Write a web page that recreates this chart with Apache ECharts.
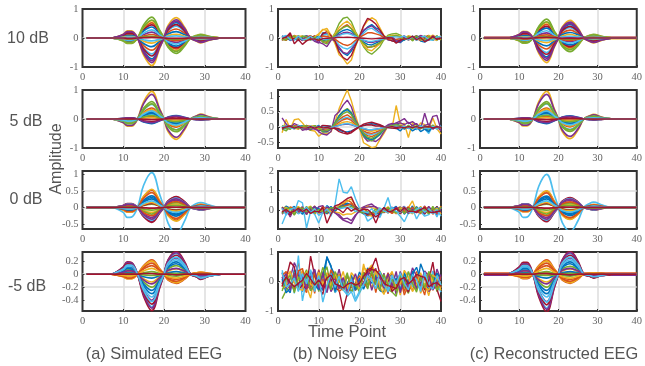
<!DOCTYPE html>
<html><head><meta charset="utf-8"><style>html,body{margin:0;padding:0;background:#fff}#c{width:645px;height:366px}</style>
<script src="https://cdn.jsdelivr.net/npm/echarts@6/dist/echarts.min.js"></script></head><body><div id="c"></div>
<script>
// amplitudes are stored in hundredths
const knots=[8,10,11,12,13.5,15,17,19,20,21,23,25,26.5,28,29,31,33];
const timePoints=[1,2,3,4,5,6,7,8,9,10,11,12,13,14,15,16,17,18,19,20,21,22,23,24,25,26,27,28,29,30,31,32,33,34,35,36,37,38,39,40];
const a10=[
[1,10,19,19,0,-45,-72,-25,0,32,53,29,0,-9,-13,-6,-1],[-1,-7,-14,-14,0,32,52,18,0,-23,-38,-21,0,6,9,4,1],[2,13,25,25,0,-59,-95,-33,0,43,70,38,0,-11,-17,-8,-1],
[2,11,20,20,0,-48,-78,-27,0,35,58,31,0,-9,-14,-6,-1],[-1,-10,-19,-19,0,45,72,25,0,-32,-53,-29,0,9,13,6,1],[1,8,14,14,0,-34,-55,-19,0,25,41,22,0,-7,-10,-4,-1],
[-1,-6,-12,-12,0,28,45,16,0,-20,-33,-18,0,5,8,4,0],[-1,-5,-10,-10,0,24,38,13,0,-17,-28,-15,0,5,7,3,0],[1,6,11,11,0,-26,-42,-15,0,19,31,17,0,-5,-8,-3,0],
[-1,-8,-16,-16,0,37,60,21,0,-27,-44,-24,0,7,11,5,1],[0,-3,-5,-5,0,12,20,7,0,-9,-15,-8,0,2,4,2,0],[-1,-9,-16,-16,0,38,62,22,0,-28,-46,-25,0,7,11,5,1],
[-1,-4,-7,-7,0,17,28,10,0,-13,-21,-11,0,3,5,2,0],[1,9,16,16,0,-38,-62,-22,0,28,46,25,0,-7,-11,-5,-1],[1,4,8,8,0,-19,-30,-10,0,14,22,12,0,-4,-5,-2,0],
[0,-2,-3,-3,0,7,12,4,0,-5,-9,-5,0,1,2,1,0],[0,3,5,5,0,-11,-18,-6,0,8,13,7,0,-2,-3,-1,0],[2,12,22,22,0,-53,-85,-30,0,38,63,34,0,-10,-15,-7,-1],
[0,-1,-2,-2,0,4,6,2,0,-3,-4,-2,0,1,1,0,0],[0,1,3,3,0,-6,-10,-4,0,5,7,4,0,-1,-2,-1,0],[0,0,-1,-1,0,1,2,1,0,-1,-1,-1,0,0,0,0,0]];
const a5=[
[0,2,4,4,0,-10,-16,-6,0,7,12,6,0,-2,-3,-1,0],[-1,-5,-10,-10,0,24,38,13,0,-17,-28,-15,0,5,7,3,0],[-2,-13,-25,-25,0,59,95,33,0,-43,-70,-38,0,11,17,8,1],
[-2,-12,-22,-22,0,53,85,30,0,-38,-63,-34,0,10,15,7,1],[-1,-8,-16,-16,0,37,60,21,0,-27,-44,-24,0,7,11,5,1],[-1,-7,-13,-13,0,31,50,18,0,-23,-37,-20,0,6,9,4,1],
[0,-3,-5,-5,0,11,18,6,0,-8,-13,-7,0,2,3,1,0],[0,-3,-6,-6,0,15,24,8,0,-11,-18,-10,0,3,4,2,0],[-1,-4,-8,-8,0,19,30,10,0,-14,-22,-12,0,4,5,2,0],
[-1,-4,-8,-8,0,20,32,11,0,-14,-24,-13,0,4,6,3,0],[0,-2,-3,-3,0,7,12,4,0,-5,-9,-5,0,1,2,1,0],[-1,-7,-14,-14,0,32,52,18,0,-23,-38,-21,0,6,9,4,1],
[0,-2,-4,-4,0,10,16,6,0,-7,-12,-6,0,2,3,1,0],[0,1,3,3,0,-6,-10,-4,0,5,7,4,0,-1,-2,-1,0],[0,-3,-5,-5,0,12,20,7,0,-9,-15,-8,0,2,4,2,0],
[0,-1,-2,-2,0,5,8,3,0,-4,-6,-3,0,1,1,1,0],[0,-1,-1,-1,0,3,5,2,0,-2,-4,-2,0,1,1,0,0],[0,2,3,3,0,-8,-13,-5,0,6,10,5,0,-2,-2,-1,0],
[0,-2,-3,-3,0,7,12,4,0,-5,-9,-5,0,1,2,1,0],[-1,-4,-7,-7,0,17,28,10,0,-13,-21,-11,0,3,5,2,0],[0,0,0,0,0,-1,-2,-1,0,1,1,1,0,0,0,0,0]];
const a0=[
[-1,-5,-9,-9,0,22,35,12,0,-16,-26,-14,0,4,6,3,0],[-1,-7,-14,-14,0,32,52,18,0,-23,-38,-21,0,6,9,4,1],[-1,-8,-14,-14,0,34,55,19,0,-25,-41,-22,0,7,10,4,1],
[1,6,11,11,0,-26,-42,-15,0,19,31,17,0,-5,-8,-3,0],[0,-1,-3,-3,0,6,10,4,0,-5,-7,-4,0,1,2,1,0],[-2,-15,-30,-29,0,67,105,37,0,-47,-80,-42,0,12,15,8,1],
[1,6,12,12,0,-28,-45,-16,0,20,33,18,0,-5,-8,-4,0],[-1,-4,-8,-8,0,19,30,10,0,-14,-22,-12,0,4,5,2,0],[-1,-6,-12,-12,0,28,45,16,0,-20,-33,-18,0,5,8,4,0],
[0,2,4,4,0,-9,-15,-5,0,7,11,6,0,-2,-3,-1,0],[1,4,8,8,0,-19,-30,-10,0,14,22,12,0,-4,-5,-2,0],[0,3,5,5,0,-12,-20,-7,0,9,15,8,0,-2,-4,-2,0],
[1,5,10,10,0,-24,-38,-13,0,17,28,15,0,-5,-7,-3,0],[0,-2,-3,-3,0,7,12,4,0,-5,-9,-5,0,1,2,1,0],[-1,-4,-7,-7,0,16,26,9,0,-12,-19,-10,0,3,5,2,0],
[1,4,7,7,0,-16,-25,-9,0,11,18,10,0,-3,-5,-2,0],[0,-2,-4,-4,0,9,15,5,0,-7,-11,-6,0,2,3,1,0],[1,5,9,9,0,-22,-35,-12,0,16,26,14,0,-4,-6,-3,0],
[0,1,2,2,0,-5,-8,-3,0,4,6,3,0,-1,-1,-1,0],[0,-3,-5,-5,0,12,20,7,0,-9,-15,-8,0,2,4,2,0],[0,0,0,0,0,-1,-2,-1,0,1,1,1,0,0,0,0,0]];
const am5=[
[1,6,10,10,0,-18,-30,-11,0,12,19,11,0,-2,-4,-2,-1],[-1,-4,-7,-7,0,13,22,8,0,-9,-14,-8,0,2,3,1,0],[-1,-4,-7,-7,0,12,20,7,0,-8,-13,-7,0,2,3,1,0],
[2,8,14,13,0,-24,-40,-14,0,16,25,14,0,-3,-6,-2,-1],[1,4,7,7,0,-12,-20,-7,0,8,13,7,0,-2,-3,-1,0],[2,10,17,17,0,-30,-50,-18,0,20,32,18,0,-4,-7,-3,-1],
[2,11,19,18,0,-34,-56,-20,0,22,35,20,0,-4,-8,-3,-1],[1,5,9,8,0,-15,-25,-9,0,10,16,9,0,-2,-4,-2,-1],[-1,-3,-6,-6,0,10,17,6,0,-7,-11,-6,0,1,2,1,0],
[0,2,4,4,0,-7,-12,-4,0,5,8,4,0,-1,-2,-1,0],[2,10,18,17,0,-31,-52,-18,0,21,33,18,0,-4,-7,-3,-1],[0,-1,-1,-1,0,2,4,1,0,-2,-3,-1,0,0,1,0,0],
[1,7,12,12,0,-21,-35,-12,0,14,22,12,0,-3,-5,-2,-1],[2,9,16,15,0,-28,-46,-16,0,18,29,16,0,-4,-6,-3,-1],[0,1,2,2,0,-4,-6,-2,0,2,4,2,0,0,-1,0,0],
[-1,-3,-4,-4,0,8,13,5,0,-5,-8,-5,0,1,2,1,0],[0,-2,-3,-3,0,5,9,3,0,-4,-6,-3,0,1,1,1,0],[1,3,5,5,0,-9,-15,-5,0,6,9,5,0,-1,-2,-1,0],
[0,0,1,1,0,-1,-2,-1,0,1,1,1,0,0,0,0,0],[2,8,14,14,0,-25,-42,-15,0,17,26,15,0,-3,-6,-3,-1],[0,0,0,0,0,1,1,0,0,0,-1,0,0,0,0,0,0]];
const c10=[
[1,10,18,17,0,-40,-65,-23,0,29,47,26,0,-9,-13,-6,-1],[-1,-7,-13,-12,0,29,47,16,0,-21,-34,-19,0,7,9,4,0],[2,13,23,22,0,-53,-85,-30,0,38,61,34,0,-12,-17,-8,-1],
[1,11,19,18,0,-43,-70,-25,0,32,50,28,0,-10,-14,-6,-1],[-1,-10,-18,-17,0,40,65,23,0,-29,-47,-26,0,9,13,6,1],[1,8,14,13,0,-31,-50,-18,0,23,36,20,0,-7,-10,-5,-1],
[-1,-6,-11,-10,0,25,40,14,0,-18,-29,-16,0,6,8,4,0],[-1,-5,-9,-9,0,21,34,12,0,-15,-24,-14,0,5,7,3,0],[1,6,10,10,0,-24,-38,-13,0,17,27,15,0,-5,-8,-3,0],
[-1,-8,-15,-14,0,33,54,19,0,-24,-39,-22,0,8,11,5,1],[0,-3,-5,-5,0,11,18,6,0,-8,-13,-7,0,3,4,2,0],[-1,-8,-15,-15,0,35,56,20,0,-25,-40,-22,0,8,11,5,1],
[-1,-4,-7,-7,0,16,25,9,0,-11,-18,-10,0,4,5,2,0],[1,8,15,15,0,-35,-56,-20,0,25,40,22,0,-8,-11,-5,-1],[1,4,7,7,0,-17,-27,-9,0,12,19,11,0,-4,-5,-2,0],
[0,-2,-3,-3,0,7,11,4,0,-5,-8,-4,0,2,2,1,0],[0,2,4,4,0,-10,-16,-6,0,7,12,6,0,-2,-3,-1,0],[2,12,21,20,0,-48,-77,-27,0,35,55,31,0,-11,-15,-7,-1],
[0,-1,-1,-1,0,3,5,2,0,-2,-4,-2,0,1,1,0,0],[0,1,2,2,0,-6,-9,-3,0,4,6,4,0,-1,-2,-1,0],[0,0,-1,-1,0,1,2,1,0,-1,-1,-1,0,0,0,0,0]];
const c5=[
[0,2,4,4,0,-10,-16,-6,0,7,11,6,0,-2,-3,-1,0],[-1,-5,-10,-9,0,24,38,13,0,-17,-27,-15,0,5,7,3,0],[-2,-13,-24,-24,0,60,95,33,0,-43,-68,-38,0,11,16,7,1],
[-2,-12,-21,-21,0,54,85,30,0,-38,-60,-34,0,10,14,6,1],[-1,-8,-15,-15,0,38,60,21,0,-27,-43,-24,0,7,10,5,1],[-1,-7,-13,-12,0,32,52,18,0,-23,-36,-20,0,6,8,4,1],
[0,-3,-5,-5,0,11,18,6,0,-8,-13,-7,0,2,3,1,0],[0,-3,-6,-6,0,15,24,8,0,-11,-17,-10,0,3,4,2,0],[-1,-4,-8,-7,0,19,30,10,0,-14,-21,-12,0,4,5,2,0],
[-1,-4,-8,-8,0,21,34,12,0,-15,-24,-13,0,4,6,3,0],[0,-2,-3,-3,0,7,12,4,0,-5,-9,-5,0,1,2,1,0],[-1,-7,-14,-13,0,33,54,19,0,-24,-38,-21,0,6,9,4,1],
[0,-2,-4,-4,0,10,16,6,0,-7,-11,-6,0,2,3,1,0],[0,1,3,3,0,-6,-10,-4,0,5,7,4,0,-1,-2,-1,0],[0,-3,-5,-5,0,13,21,7,0,-9,-15,-8,0,2,4,2,0],
[0,-1,-2,-2,0,5,8,3,0,-4,-6,-3,0,1,1,1,0],[0,-1,-1,-1,0,3,5,2,0,-2,-4,-2,0,1,1,0,0],[0,2,3,3,0,-8,-13,-5,0,6,9,5,0,-2,-2,-1,0],
[0,-2,-3,-3,0,8,13,5,0,-6,-9,-5,0,1,2,1,0],[-1,-4,-7,-7,0,17,28,10,0,-13,-20,-11,0,3,4,2,0],[0,0,0,0,0,-1,-2,-1,0,1,1,1,0,0,0,0,0]];
const c0=[
[-1,-4,-8,-8,0,22,34,12,0,-15,-25,-14,0,4,6,3,0],[-1,-7,-13,-13,0,31,49,17,0,-22,-35,-20,0,6,8,4,1],[-1,-7,-13,-13,0,32,50,18,0,-23,-36,-21,0,6,9,4,1],
[1,5,10,10,0,-25,-40,-14,0,18,28,16,0,-5,-7,-3,0],[0,-1,-3,-3,0,6,10,4,0,-5,-7,-4,0,1,2,1,0],[-2,-14,-30,-29,0,64,100,36,0,-46,-72,-40,0,12,16,8,1],
[1,6,11,11,0,-27,-43,-15,0,19,30,17,0,-5,-8,-4,0],[-1,-4,-8,-8,0,19,30,10,0,-14,-21,-12,0,4,5,2,0],[-1,-6,-11,-11,0,28,44,15,0,-20,-31,-18,0,5,8,4,0],
[0,2,4,4,0,-9,-15,-5,0,7,11,6,0,-2,-3,-1,0],[1,4,8,8,0,-19,-30,-10,0,14,21,12,0,-4,-5,-2,0],[0,3,5,5,0,-12,-20,-7,0,9,14,8,0,-2,-4,-2,0],
[1,5,10,10,0,-24,-38,-13,0,17,27,15,0,-5,-7,-3,0],[0,-2,-3,-3,0,7,12,4,0,-5,-9,-5,0,1,2,1,0],[-1,-4,-7,-7,0,16,26,9,0,-12,-18,-10,0,3,5,2,0],
[1,4,7,7,0,-16,-25,-9,0,11,17,10,0,-3,-5,-2,0],[0,-2,-4,-4,0,9,15,5,0,-7,-10,-6,0,2,3,1,0],[1,5,9,9,0,-22,-35,-12,0,16,25,14,0,-4,-6,-3,0],
[0,1,2,2,0,-5,-8,-3,0,4,6,3,0,-1,-1,-1,0],[0,-3,-5,-5,0,12,20,7,0,-9,-14,-8,0,2,4,2,0],[0,0,0,0,0,-1,-2,-1,0,1,1,1,0,0,0,0,0]];
const cm5=[
[1,6,10,10,0,-18,-30,-11,0,12,19,11,0,-2,-3,-1,0],[-1,-4,-7,-7,0,13,22,8,0,-9,-14,-8,0,1,2,1,0],[-1,-4,-6,-6,0,12,20,7,0,-8,-13,-7,0,1,2,1,0],
[2,8,13,13,0,-25,-42,-15,0,16,25,14,0,-2,-4,-2,-1],[1,4,6,6,0,-12,-20,-7,0,8,12,7,0,-1,-2,-1,0],[2,10,15,15,0,-31,-52,-18,0,20,32,18,0,-3,-5,-2,-1],
[2,11,18,18,0,-35,-58,-20,0,22,35,20,0,-3,-6,-2,-1],[1,5,8,8,0,-15,-25,-9,0,10,16,9,0,-2,-3,-1,0],[-1,-3,-5,-5,0,10,17,6,0,-7,-11,-6,0,1,1,1,0],
[0,2,4,4,0,-7,-12,-4,0,5,8,4,0,-1,-1,-1,0],[2,10,16,16,0,-32,-54,-19,0,21,33,18,0,-3,-5,-2,-1],[0,-1,-1,-1,0,2,4,1,0,-2,-3,-1,0,0,0,0,0],
[1,7,11,11,0,-21,-35,-12,0,14,22,12,0,-2,-4,-2,0],[2,9,14,14,0,-28,-47,-16,0,18,29,16,0,-3,-5,-2,-1],[0,1,2,2,0,-4,-6,-2,0,2,4,2,0,0,0,0,0],
[-1,-3,-4,-4,0,8,13,5,0,-5,-8,-5,0,1,1,1,0],[0,-2,-3,-3,0,5,9,3,0,-4,-6,-3,0,1,1,0,0],[1,3,5,5,0,-9,-15,-5,0,6,9,5,0,-1,-2,-1,0],
[0,0,1,1,0,-1,-2,-1,0,1,1,1,0,0,0,0,0],[2,8,13,13,0,-26,-43,-15,0,17,26,15,0,-2,-4,-2,0],[0,0,0,0,0,1,1,0,0,0,-1,0,0,0,0,0,0]];
const flatC10=[3,-3,2];
const flatCm5=[2,-1,-2];
const b10=[
[5,-6,8,-3,-9,4,7,-5,2,-7,18,14,10,-14,-38,-52,-60,-45,-19,4,24,38,46,35,28,5,-3,-10,-14,-9,-8,3,-6,9,-11,-14,5,-8,6,-3],
[-7,6,-4,9,3,-8,5,-3,8,-5,-12,-15,-2,8,26,38,46,33,14,-3,-19,-33,-30,-28,-16,-6,4,7,8,3,6,-5,7,-3,-8,4,9,-6,-4,7],
[3,-4,2,7,-6,5,-2,8,-9,12,28,33,10,-20,-58,-70,-90,-76,-30,6,40,60,70,62,35,8,-2,-9,-14,-10,-4,7,-9,4,6,-7,3,10,-5,-2],
[-9,8,5,-6,4,-3,7,2,-12,-18,12,16,-4,-10,-32,-50,-54,-38,-16,3,27,36,42,30,20,6,-7,-8,-12,-5,8,-6,3,-8,5,2,-7,6,-4,8],
[6,-8,3,-4,9,-5,-9,4,-2,7,-15,-20,-6,18,50,68,72,56,22,-2,-30,-48,-56,-44,-30,-6,10,14,16,10,-3,6,-10,5,-5,8,-6,-4,7,-7],
[4,7,-9,2,-5,8,-7,5,3,-4,10,13,5,-8,-24,-34,-38,-30,-14,2,16,30,34,24,15,2,-5,-6,-6,-2,5,-3,7,-9,4,-14,-6,3,-9,5],
[-6,5,9,-3,6,-4,-7,3,6,-8,15,22,8,-10,-48,-68,-76,-60,-26,5,42,68,60,48,28,7,-5,-10,-14,-8,3,-7,4,6,-4,-2,8,-6,5,-5],
[8,-3,-6,5,-7,3,6,-8,5,4,-9,-6,-3,5,18,26,30,24,10,-3,-14,-22,-24,-18,-11,-4,3,5,-12,-16,-4,6,-5,3,7,-9,-5,4,-6,6],
[-4,-8,7,3,-3,-6,4,8,-5,-9,7,5,2,-4,-14,-22,-26,-20,-8,2,10,18,18,14,10,1,-3,-4,-5,-2,4,-6,-3,7,-5,5,-3,7,4,-6],
[-8,3,-5,6,5,7,-3,-6,4,14,30,26,-4,14,36,50,58,44,18,-2,-26,-40,-44,-32,-20,-4,6,9,10,6,-5,8,4,-6,3,-7,9,-3,-8,8],
[5,4,-7,-5,2,-9,8,-4,-8,-14,-20,-30,-8,5,12,18,20,16,6,-1,-8,-14,-16,-12,-8,-1,2,4,-10,-14,4,-5,6,-4,9,3,-8,7,-3,4],
[-5,-6,4,7,-8,6,5,-7,3,-6,-10,-11,-3,9,26,36,42,32,13,-3,-18,-30,-31,-24,-16,-5,5,6,9,4,-6,4,-4,7,-6,-5,6,-7,8,-5],
[3,9,-5,-7,7,-6,-4,6,-7,5,-4,-4,-1,3,8,14,16,12,6,-2,-7,-11,-12,-9,-6,-3,3,4,4,3,7,-7,5,-5,3,6,-5,-8,4,5],
[-2,3,18,-20,-5,-22,-10,-4,-3,-8,-2,-1,0,1,3,2,3,2,1,0,-1,-2,-3,-2,-1,-1,1,0,-18,-8,-3,-2,6,-6,2,-13,-6,5,-5,0]];
const b5=[
[3,-4,2,-5,4,-3,1,-4,5,-2,5,4,3,-4,-9,-14,-15,-12,-5,2,6,10,11,9,6,2,-1,-2,-3,-12,3,-4,-3,2,-14,-6,-9,3,-4,5],
[-4,5,-3,2,-6,3,-2,5,-3,4,-10,-9,-3,8,24,34,40,30,14,-1,-18,-27,-30,-24,-16,-5,3,5,7,5,3,-2,4,-3,6,-4,3,-5,2,-3],
[-18,25,-5,24,27,14,-4,-10,-12,-29,-18,-20,-15,18,60,92,120,85,38,-3,-50,-58,-66,-63,-40,-20,5,-2,70,10,12,-33,15,-8,14,8,-6,30,-5,-22],
[30,10,-3,12,5,-10,-5,-8,4,-15,-22,-25,-14,38,50,72,87,66,25,0,-30,-45,-42,-46,-36,-14,4,8,14,20,28,12,18,8,-6,45,2,35,38,-8],
[-5,-12,4,-3,6,-7,5,-10,3,-6,-15,-14,-5,15,38,52,60,48,20,-2,-28,-38,-44,-35,-24,-8,3,6,10,5,-4,6,-5,4,-3,5,-8,7,-5,3],
[6,-3,-5,4,-2,5,-6,3,-4,2,-8,-7,-2,7,20,28,32,25,10,0,-14,-22,-24,-20,-12,-3,2,4,6,3,-5,4,-3,-8,3,-5,-20,4,-6,3],
[-6,3,5,-3,-2,-4,6,-2,4,-3,6,5,2,-5,-14,-19,-22,-18,-8,1,10,14,16,12,8,2,-1,-3,-4,-2,3,-2,4,-3,2,-2,3,-3,2,-2],
[2,-5,4,-2,3,4,-3,-5,-2,6,-14,-15,-5,14,36,50,57,44,18,-2,-24,-36,-40,-33,-22,-6,3,5,10,4,-6,3,-12,-4,5,-6,-14,3,-3,4],
[-3,4,-6,5,3,-2,4,3,-5,-3,-7,-6,-2,6,16,24,28,22,9,-1,-12,-18,-20,-16,-10,-3,2,4,5,3,2,-3,3,-2,-4,3,-2,4,-3,3],
[4,2,3,-4,-5,3,-3,5,4,-5,-5,-4,-1,4,11,16,18,15,6,0,-8,-12,-13,-10,-7,-2,1,2,3,2,-2,3,-4,3,2,-3,4,-2,3,-2],
[-3,3,2,-4,3,-5,-8,-4,-6,-12,-8,-14,-3,3,6,9,10,8,4,-1,-5,-8,-8,-6,-4,-1,8,12,10,14,8,16,5,12,-4,6,10,-6,4,-12],
[5,-4,-6,3,-4,3,5,-4,5,-3,-12,-11,-4,12,30,44,50,40,16,-1,-20,-32,-36,-28,-18,-6,2,5,8,4,-3,4,-3,5,-5,3,-4,5,-4,3],
[2,4,-2,-5,5,-4,-3,4,-2,3,-3,-2,-1,2,6,10,12,9,4,0,-4,-7,-8,-6,-4,-1,1,2,3,1,3,-4,2,-3,4,-2,-5,3,-4,4],
[-2,1,3,-3,2,-2,-3,2,-3,2,-2,-1,-4,-2,-5,-12,-20,-14,-5,2,5,8,7,4,4,1,0,2,-1,1,-2,2,-1,2,-2,1,2,-2,1,0]];
const b0=[
[12,-18,8,20,-10,15,-22,18,-5,10,-14,24,6,10,18,30,36,28,14,-6,-18,-28,-24,-12,-22,8,-14,6,20,-16,12,-8,22,-12,6,-20,14,-8,18,-12],
[-14,10,-20,6,18,-12,14,-8,22,-16,8,-18,-4,-6,20,28,52,40,12,8,-12,-24,-26,-18,-8,12,-6,-14,8,18,-12,20,-14,10,-18,8,16,-20,6,-10],
[8,20,-12,-18,14,-6,10,22,-20,6,-12,10,-16,4,26,38,46,58,24,-4,10,-18,-30,-10,-14,4,18,-10,-14,12,-6,14,48,-8,20,-14,-6,12,-18,22],
[-20,6,-34,12,-8,20,-14,6,-10,18,24,-8,14,-12,-32,-50,-58,-68,-30,6,18,26,32,14,10,-12,4,16,-18,6,20,-12,-6,16,-10,22,-18,8,-24,10],
[18,-12,14,-24,6,-10,20,-16,12,-8,-14,18,-10,16,12,22,26,30,8,-8,-14,-12,-20,8,-10,14,-6,12,-8,-14,6,-18,10,-6,16,-4,-16,20,-8,12],
[-70,-20,8,-10,50,38,-90,-6,-20,-65,-10,22,-30,30,160,92,88,120,60,10,-6,-55,-40,-20,-36,10,65,-10,-8,-30,-58,-14,12,-44,-6,-30,-22,8,-34,14],
[16,-10,-22,12,-16,8,-6,14,-12,-8,18,-12,-6,22,30,44,60,68,22,0,-10,-20,-14,-34,-16,-6,10,-12,14,-18,8,12,-10,-6,14,-18,10,-12,20,-16],
[-12,22,10,-16,8,-20,12,-10,18,6,-8,-16,20,-4,16,24,32,28,14,4,-6,-16,-18,-8,-20,14,-8,10,-12,16,-20,6,-8,18,-6,12,-4,-14,16,-6],
[6,-14,18,8,-12,16,-20,8,-6,-14,16,6,-12,14,10,20,26,34,10,-2,14,-10,-18,-12,-6,-10,12,-16,6,10,-4,-12,16,-8,-14,20,-10,6,-16,20],
[-8,16,-6,-12,20,-4,6,-16,10,-20,4,12,-8,-10,-12,-24,-18,-20,-8,6,10,22,12,10,6,-4,-12,8,-16,12,10,-6,-18,12,-10,6,14,-8,12,-20],
[14,-8,-16,10,-6,12,-18,4,20,-10,-12,18,6,-14,-22,-44,-40,-52,-24,-6,14,16,20,18,-8,12,-4,-6,16,-10,14,-16,6,-12,10,-14,20,-6,-10,8],
[-16,8,12,-20,14,10,-8,18,-14,4,-6,-10,14,8,14,18,12,20,8,-4,-10,-6,-14,6,-12,-8,14,-4,-12,6,-16,10,-8,14,-12,6,-18,12,-6,16],
[10,-24,4,14,-18,-6,16,-12,8,-26,-12,6,-18,12,8,12,16,12,-6,2,-6,-12,8,-16,12,-4,-10,14,-6,-12,18,-8,-14,6,14,-10,8,-16,4,-30],
[-8,4,-12,-4,10,-6,6,-16,-4,-8,14,-65,-20,14,4,-12,14,-4,10,-4,6,4,-14,-65,-12,14,-6,-4,10,-8,14,-6,-4,-10,4,14,-8,-12,-6,-4]];
const bm5=[
[30,-20,-38,40,22,-34,18,-24,38,-12,-30,85,50,20,-18,-28,-8,-34,-12,32,8,46,30,10,-30,-38,26,16,-24,-8,30,-22,36,-28,60,24,-12,-18,26,-14],
[-18,30,-22,10,64,-8,-38,20,-40,40,-8,-30,34,-28,18,-4,-42,-18,-30,-14,32,14,50,26,-24,6,-42,30,-14,22,-34,8,-18,34,-28,12,30,-30,8,-22],
[-8,24,30,-34,6,38,-16,-56,26,-10,34,-24,12,-38,26,-30,-14,16,8,-26,46,38,56,30,36,-40,-20,-30,10,-46,24,-34,-8,28,-40,-6,-48,14,30,-20],
[16,-24,12,64,34,-20,10,-30,-14,36,-26,18,-34,-10,42,-20,-30,10,-22,8,-14,30,24,44,-20,28,-38,20,-44,34,-12,-6,46,18,-22,30,-34,-18,42,6],
[-58,-30,-14,30,-22,12,40,-8,26,-34,20,50,-18,30,-24,-6,30,-36,-16,-4,26,-12,30,-8,34,10,-26,-36,-50,18,-16,-40,14,-30,20,-30,8,26,-34,-10],
[38,-8,28,-40,88,-66,6,24,-34,16,-6,-20,30,-38,-20,10,-50,-34,-68,-40,-12,24,10,34,-10,20,-36,8,24,-30,18,30,-18,12,-26,30,-22,36,-8,-36],
[-16,10,66,50,-28,-12,-26,86,20,-18,-44,28,8,-22,-30,-96,-40,-8,-26,4,22,40,46,80,26,-22,10,-34,-18,30,-8,-36,20,-12,18,-28,4,66,-26,-68],
[8,-38,-24,14,-30,26,-16,36,-10,-28,24,80,54,-34,12,-16,-6,22,-30,12,-26,8,-6,22,-30,-38,18,-16,12,-30,30,-8,26,48,6,-14,-26,-6,28,10],
[20,34,-12,-26,36,44,-18,-22,30,-14,8,-26,40,14,-34,-22,18,-14,-6,20,-4,-22,30,-38,24,-12,30,-24,-6,14,-46,-12,-30,16,-8,-46,28,-14,-24,18],
[-26,-14,36,-4,-24,-30,34,-10,-18,32,-12,30,-16,26,-4,34,-28,30,12,-24,60,6,-22,40,-18,-44,12,34,-22,-8,38,16,-34,-10,30,-16,-30,22,12,-30],
[10,26,-30,28,-12,18,-26,14,42,-24,30,-38,18,6,-24,14,-34,-10,26,-18,-6,34,-30,12,14,-22,26,-16,34,-38,8,-22,14,-24,-6,36,18,-28,-10,24],
[-32,6,20,-38,16,-6,24,-32,-12,-4,48,14,-28,34,6,-30,22,-18,-8,-36,30,-26,38,-10,-30,24,-12,8,-32,26,-20,34,-6,-36,14,-22,34,12,-28,-6],
[30,-18,-8,12,-34,26,-8,40,-24,20,-70,-14,26,-20,18,-28,-46,10,-60,-32,-10,20,4,-24,34,-14,-30,22,-8,30,-6,-28,24,6,-34,32,-14,-26,20,-12],
[-10,16,-4,-18,-6,4,28,8,-12,6,-18,12,22,-8,-14,-22,-10,-4,-12,-6,18,34,40,38,22,-6,-14,-18,-24,6,14,-8,4,24,18,14,-18,-8,-4,-16]];

const colors=['#0072BD','#D95319','#EDB120','#7E2F8E','#77AC30','#4DBEEE','#A2142F'];
const cols=[82.5,278,480];const rows=[[9,67],[90,148],[171,229],[252,311]];
const ranges=[[[-1,1],[-1,0,1]],[[-1,1],[-1,0,1]],[[-.65,1.1],[-.5,0,.5,1]],[[-.565,.34],[-.4,-.2,0,.2]]];
const rangesB=[[[-1,1],[-1,0,1]],[[-.67,1.2],[-.5,0,.5,1]],[[-.95,2],[0,1,2]],[[-1,1],[-1,0,1]]];
const panels=[[a10,a5,a0,am5],[b10,b5,b0,bm5],[c10,c5,c0,cm5]];
const flats=[[null,null,null,null],[null,null,null,null],[flatC10,null,null,flatCm5]];
const grid=[],xAxis=[],yAxis=[],series=[];
const serif='"Liberation Serif"',sans='"Liberation Sans"';
const lineBase={type:'line',symbol:'none',silent:true,animation:false,clip:true};
cols.forEach((cx,ci)=>rows.forEach((r,ri)=>{
 const i=grid.length;const [rg,tk]=(ci==1?rangesB:ranges)[ri];
 grid.push({left:cx,width:163,top:r[0],height:r[1]-r[0],show:true,borderColor:'#333',borderWidth:2,backgroundColor:'#fff'});
 const sl={show:true,showMinLine:false,showMaxLine:false,lineStyle:{color:'#ddd',width:1.5}};
 const tick={show:true,inside:true,length:2,lineStyle:{color:'#333'}};
 xAxis.push({gridIndex:i,type:'value',min:0,max:40,interval:10,axisLine:{show:false,onZero:false},axisTick:tick,splitLine:sl,axisLabel:{color:'#666',fontFamily:serif,fontSize:10.5,margin:5,hideOverlap:false}});
 yAxis.push({gridIndex:i,type:'value',min:rg[0],max:rg[1],axisLine:{show:false,onZero:false},axisTick:{...tick,customValues:tk},splitLine:sl,axisLabel:{customValues:tk,color:'#666',fontFamily:serif,fontSize:10.5,margin:4,hideOverlap:false}});
 const f=flats[ci][ri];
 if(f)f.forEach((v,k)=>series.push({...lineBase,xAxisIndex:i,yAxisIndex:i,lineStyle:{width:1.2,color:colors[k+1]},data:[[1,v/100],[40,v/100]]}));
 panels[ci][ri].forEach((row,k)=>{
  const data=ci==1?row.map((v,j)=>[timePoints[j],v/100]):[[1,0],[7,0],...row.map((v,j)=>[knots[j],v/100]),[34,0],[40,0]];
  series.push({...lineBase,xAxisIndex:i,yAxisIndex:i,smooth:ci==1?false:.4,lineStyle:{width:ci==1?1.4:1.7,color:colors[k%7]},data});
 });
}));
const T=(text,x,y,size,rot)=>({type:'text',x,y,rotation:rot||0,style:{text,fill:'#555',font:size+'px '+sans,align:'center',verticalAlign:'middle'},silent:true});
const graphic=[T('10 dB',28,39,16),T('5 dB',26,122,16),T('0 dB',26,200,16),T('-5 dB',27,287,16),T('Amplitude',57,159,16,Math.PI/2),T('Time Point',347,332,16.5),T('(a) Simulated EEG',154,354,16.4),T('(b) Noisy EEG',345,354,16.4),T('(c) Reconstructed EEG',554,354,16.4)];
const ch=echarts.init(document.getElementById('c'),null,{renderer:'canvas'});
ch.setOption({animation:false,grid,xAxis,yAxis,series,graphic});
</script></body></html>
